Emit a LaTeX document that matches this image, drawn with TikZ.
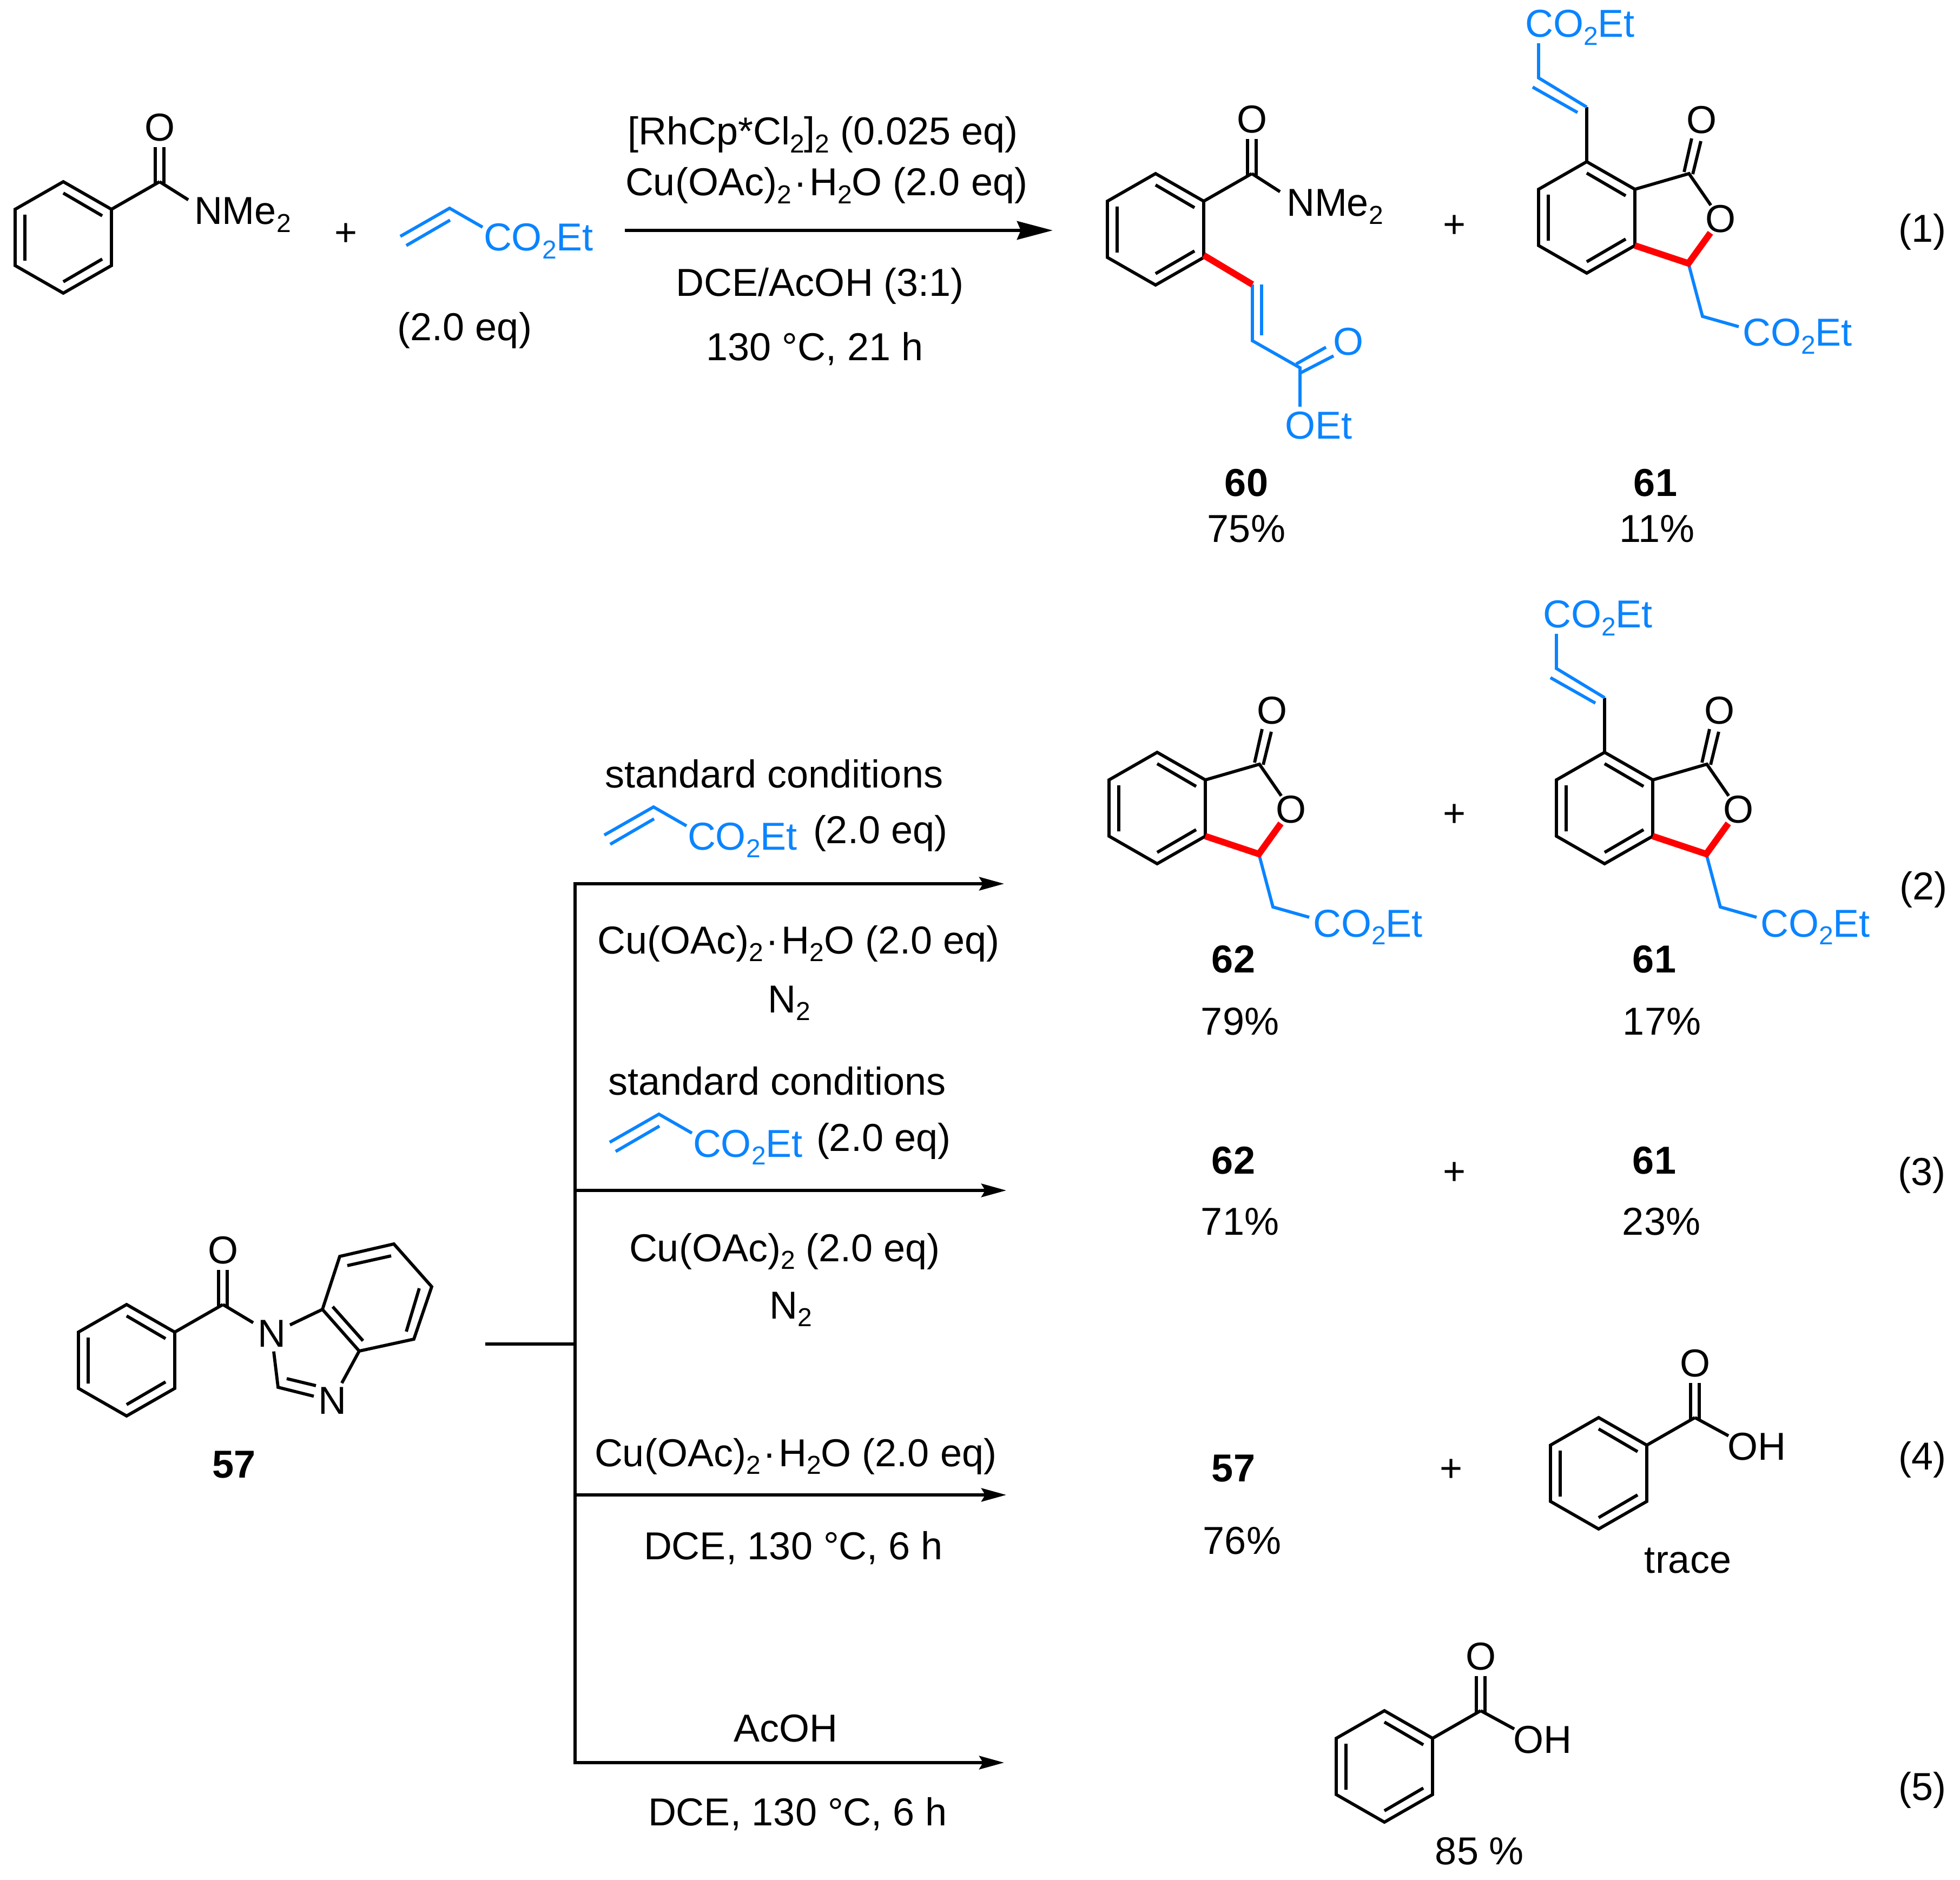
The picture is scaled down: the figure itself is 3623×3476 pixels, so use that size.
\documentclass[tikz,border=0pt]{standalone}
\usepackage{fontspec}
\setmainfont{Liberation Sans}
\usetikzlibrary{arrows.meta}
\definecolor{estblue}{HTML}{0A84FF}
\definecolor{newred}{HTML}{FF0000}
\newcommand{\subn}[1]{\raisebox{-.2em}{\fontsize{12}{12}\selectfont #1}}
\newcommand{\cotwo}{CO\subn{2}Et}
\newcommand{\cdotsp}{\kern1.2pt·\kern1.2pt}
\tikzset{
  txt/.style={inner sep=0,outer sep=0,font=\fontsize{18}{20}\selectfont,anchor=base},
  txtl/.style={txt,anchor=base west},
  lab/.style={txt,font=\fontsize{18}{20}\selectfont\bfseries},
  atom/.style={inner sep=0,outer sep=0,font=\fontsize{18}{20}\selectfont},
  natom/.style={atom,outer sep=2pt},
  bond/.style={line width=1.45pt},
  blbond/.style={bond,estblue},
  rdbond/.style={line width=3pt,newred},
  bus/.style={line width=1.4pt},
  rxn/.style={line width=1.4pt,-{Stealth[length=11.5pt,width=6.2pt,inset=1.8pt]}},
  bigrxn/.style={line width=1.6pt,-{Stealth[length=16.5pt,width=8.5pt,inset=1.75pt]}},
  benzring/.pic={
    \draw[bond] (0,-103) -- (89,-52) -- (89,52) -- (0,103) -- (-89,52) -- (-89,-52) -- cycle;
    \draw[bond] (0,-82) -- (72,-40) (72,40) -- (0,82) (-71,-42) -- (-71,43);
  },
  benzoyl/.pic={
    \pic (r) at (0,0) {benzring};
    \coordinate (c) at (178,-103);
    \node[atom] (o) at (178,-203) {O};
    \draw[bond] (89,-52) -- (c);
    \draw[bond] (170,-100) -- (170,-167) (186,-100) -- (186,-167);
  },
  lactone/.pic={
    \pic (r) at (0,0) {benzring};
    \coordinate (c) at (189,-81);
    \coordinate (h) at (188,85);
    \coordinate (m) at (214,183);
    \node[atom] (oc) at (212,-180) {O};
    \node[atom] (or) at (247,3) {O};
    \node[txtl,text=estblue] (es) at (288,238) {\cotwo};
    \draw[bond] (89,-52) -- (c) -- (or);
    \draw[bond] (180,-84) -- (194,-146) (196,-80) -- (211,-141);
    \draw[blbond] (h) -- (m) -- (281,202);
    \draw[rdbond] (89,52) -- (h) -- (or);
  },
  vinylarm/.pic={
    \node[txtl,text=estblue] (es) at (-114,-333) {\cotwo};
    \draw[bond] (0,-103) -- (0,-204);
    \draw[blbond] (0,-204) -- (-89,-258) -- (-89,-322);
    \draw[blbond] (-100,-241) -- (-17,-194);
  },
  acrylate/.pic={
    \node[txtl,text=estblue] (es) at (63,79) {\cotwo};
    \draw[blbond] (-91,52) -- (0,0) -- (61,35);
    \draw[blbond] (-80,69) -- (1,22);
  }
}
\begin{document}
\begin{tikzpicture}[x=.25pt,y=-.25pt]
  \useasboundingbox (0,0) rectangle (3623,3476);

  \pic (am) at (117,439) {benzoyl};
  \node[txtl] (amn) at (359,415) {NMe\subn{2}};
  \draw[bond] (amc) -- ([shift={(-11,4)}]amn.north west);
  \node[atom] (pa) at (640,434) {+};
  \pic (aca) at (831,385) {acrylate};
  \node[txt] (eqa) at (859,630) {(2.0 eq)};
  \coordinate (ra) at (1155,426);
  \coordinate (rb) at (1946,426);
  \draw[bigrxn] (ra) -- (rb);
  \node[txtl] (cda) at (1160,268) {[RhCp*Cl\subn{2}]\subn{2} (0.025 eq)};
  \node[txtl] (cdb) at (1156,362) {Cu(OAc)\subn{2}\cdotsp H\subn{2}O (2.0 eq)};
  \node[txt] (cdc) at (1516,548) {DCE/AcOH (3:1)};
  \node[txt] (cdd) at (1506,667) {130 °C, 21 h};

  \pic (pl) at (2136,424) {benzoyl};
  \node[txtl] (pln) at (2378,400) {NMe\subn{2}};
  \draw[bond] (plc) -- ([shift={(-12,4)}]pln.north west);
  \node[atom,text=estblue] (plo) at (2492,632) {O};
  \node[txtl,text=estblue] (ple) at (2375,812) {OEt};
  \draw[blbond] (2315,526) -- (2315,630) -- (2403,680) -- (2403,752);
  \draw[blbond] (2332,526) -- (2332,620);
  \draw[blbond] (2396,673) -- (2451,642) (2403,690) -- (2465,658);
  \draw[rdbond] (2225,472) -- (2315,526);
  \node[lab] (na) at (2304,918) {60};
  \node[txt] (ya) at (2304,1003) {75\%};
  \node[atom] (pb) at (2688,419) {+};
  \pic (ls) at (2933,402) {lactone};
  \pic (la) at (2933,402) {vinylarm};
  \node[lab] (nb) at (3060,918) {61};
  \node[txt] (yb) at (3063,1003) {11\%};
  \node[txt] (ea) at (3553,448) {(1)};

  \pic (mo) at (234,2515) {benzoyl};
  \node[natom] (na1) at (502,2466) {N};
  \node[natom] (na3) at (614,2590) {N};
  \draw[bond] (moc) -- (na1);
  \draw[bond] (596,2421) -- (na1);
  \draw[bond] (na1) -- (514,2565) -- (na3);
  \draw[bond] (530,2549) -- (584,2562);
  \draw[bond] (na3) -- (664,2498) -- (596,2421) -- (628,2323) -- (728,2300) -- (798,2379) -- (765,2476) -- (664,2498);
  \draw[bond] (615,2416) -- (671,2479) (642,2340) -- (723,2322) (775,2382) -- (751,2462);
  \node[lab] (nc) at (433,2732) {57};

  \coordinate (ha) at (897,2485);
  \coordinate (hb) at (1063,2485);
  \coordinate (ba) at (1063,1634);
  \coordinate (bb) at (1063,2201);
  \coordinate (bc) at (1063,2764);
  \coordinate (bd) at (1063,3259);
  \coordinate (ta) at (1856,1634);
  \coordinate (tb) at (1860,2201);
  \coordinate (tc) at (1860,2764);
  \coordinate (td) at (1856,3259);
  \draw[bus] (ha) -- (hb);
  \draw[bus,line cap=rect] (ba) -- (bd);
  \draw[rxn] (ba) -- (ta);
  \draw[rxn] (bb) -- (tb);
  \draw[rxn] (bc) -- (tc);
  \draw[rxn] (bd) -- (td);

  \node[txt] (sa) at (1431,1456) {standard conditions};
  \pic (acb) at (1208,1492) {acrylate};
  \node[txtl] (sb) at (1503,1559) {(2.0 eq)};
  \node[txt] (sc) at (1476,1763) {Cu(OAc)\subn{2}\cdotsp H\subn{2}O (2.0 eq)};
  \node[txtl] (sd) at (1419,1872) {N\subn{2}};
  \node[txtl] (ua) at (1124,2024) {standard conditions};
  \pic (acc) at (1218,2060) {acrylate};
  \node[txtl] (ub) at (1509,2128) {(2.0 eq)};
  \node[txtl] (uc) at (1163,2332) {Cu(OAc)\subn{2} (2.0 eq)};
  \node[txtl] (ud) at (1422,2438) {N\subn{2}};
  \node[txtl] (va) at (1099,2711) {Cu(OAc)\subn{2}\cdotsp H\subn{2}O (2.0 eq)};
  \node[txtl] (vb) at (1190,2883) {DCE, 130 °C, 6 h};
  \node[txtl] (wa) at (1356,3220) {AcOH};
  \node[txtl] (wb) at (1198,3375) {DCE, 130 °C, 6 h};

  \pic (lt) at (2139,1494) {lactone};
  \node[atom] (pc) at (2688,1508) {+};
  \pic (lu) at (2966,1494) {lactone};
  \pic (lv) at (2966,1494) {vinylarm};
  \node[lab] (nd) at (2280,1798) {62};
  \node[lab] (ne) at (3058,1798) {61};
  \node[txt] (yd) at (2292,1913) {79\%};
  \node[txt] (ye) at (3072,1913) {17\%};
  \node[txt] (eb) at (3555,1663) {(2)};

  \node[lab] (nf) at (2280,2170) {62};
  \node[atom] (pd) at (2688,2170) {+};
  \node[lab] (ng) at (3058,2170) {61};
  \node[txt] (yf) at (2292,2283) {71\%};
  \node[txt] (yg) at (3071,2283) {23\%};
  \node[txt] (ec) at (3552,2191) {(3)};

  \node[lab] (nh) at (2280,2739) {57};
  \node[atom] (pe) at (2683,2719) {+};
  \node[txt] (yh) at (2296,2873) {76\%};
  \pic (ba) at (2955,2724) {benzoyl};
  \node[txtl] (bah) at (3193,2699) {OH};
  \draw[bond] (bac) -- ([shift={(2,6)}]bah.north west);
  \node[txt] (yi) at (3120,2908) {trace};
  \node[txt] (ed) at (3553,2717) {(4)};

  \pic (bb) at (2559,3266) {benzoyl};
  \node[txtl] (bbh) at (2797,3241) {OH};
  \draw[bond] (bbc) -- ([shift={(2,6)}]bbh.north west);
  \node[txt] (yj) at (2735,3447) {85 \%};
  \node[txt] (ee) at (3553,3328) {(5)};
\end{tikzpicture}
\end{document}
